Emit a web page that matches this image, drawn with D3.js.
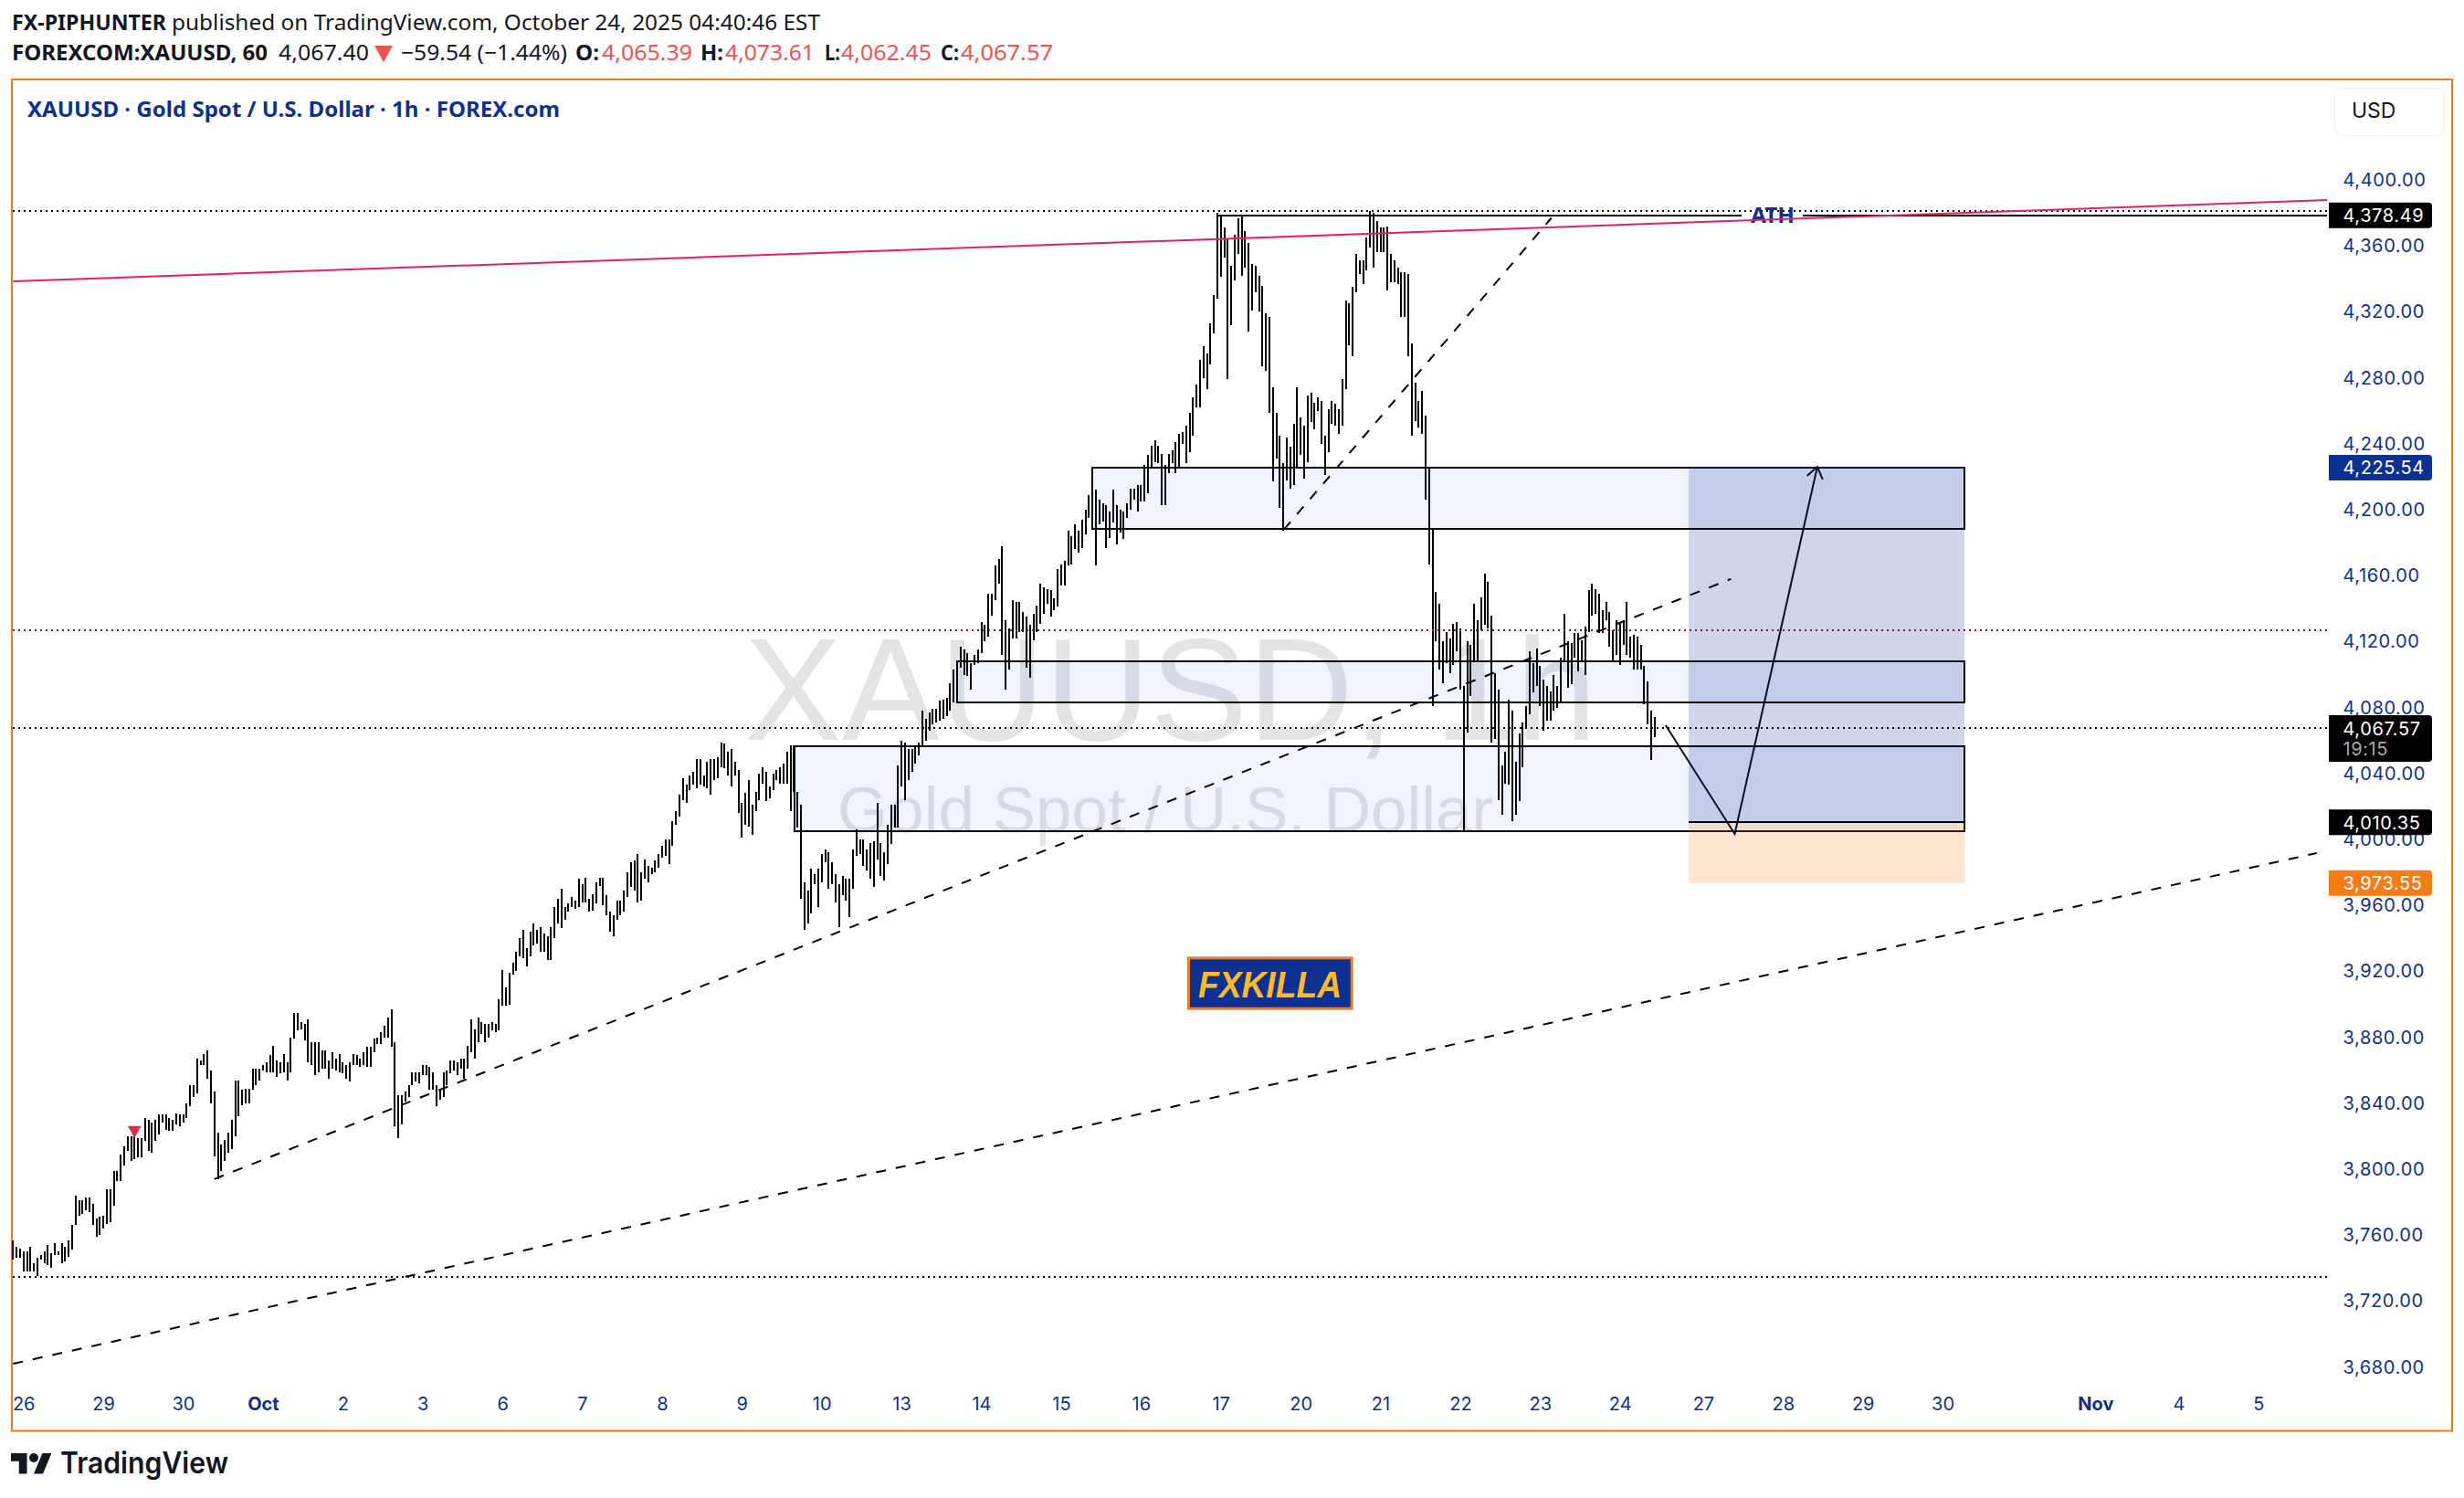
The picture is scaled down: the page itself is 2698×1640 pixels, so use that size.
<!DOCTYPE html>
<html>
<head>
<meta charset="utf-8">
<title>XAUUSD</title>
<script src="https://cdn.jsdelivr.net/npm/d3@7"></script>
<style>
  html, body { margin: 0; padding: 0; background: #fff; }
  svg { display: block; }
  text { font-family: "Noto Sans", sans-serif; }
</style>
</head>
<body>
<svg id="chart" width="2698" height="1640"></svg>
<script>
// hourly bars
const barHigh = [
  3757,3753,3752,3750,3750,3753,3743,3746,3748,3750,
  3754,3749,3755,3750,3755,3753,3757,3766,3784,3781,
  3781,3783,3783,3779,3770,3771,3772,3788,3788,3799,
  3799,3809,3814,3820,3820,3820,3819,3819,3831,3830,
  3828,3830,3833,3833,3833,3831,3830,3834,3833,3833,
  3840,3851,3851,3867,3866,3870,3872,3860,3847,3822,
  3815,3818,3822,3830,3854,3854,3848,3849,3849,3861,
  3861,3861,3863,3865,3869,3875,3866,3865,3870,3865,
  3880,3895,3895,3889,3888,3891,3877,3877,3877,3872,
  3872,3866,3871,3867,3870,3865,3863,3865,3870,3869,
  3867,3871,3874,3874,3879,3880,3883,3887,3892,3897,
  3877,3845,3845,3847,3851,3859,3859,3859,3863,3863,
  3862,3859,3851,3849,3859,3860,3866,3866,3865,3867,
  3867,3875,3891,3885,3892,3889,3888,3888,3889,3888,
  3903,3921,3910,3919,3925,3932,3940,3945,3934,3944,
  3949,3945,3947,3943,3941,3947,3959,3964,3970,3959,
  3961,3965,3963,3976,3973,3977,3964,3967,3974,3977,
  3977,3966,3956,3954,3963,3963,3969,3980,3986,3987,
  3991,3980,3988,3984,3983,3987,3991,3996,4000,4000,
  4011,4017,4027,4037,4033,4039,4041,4049,4049,4039,
  4047,4049,4049,4050,4059,4058,4053,4055,4047,4042,
  4022,4028,4036,4021,4029,4040,4044,4041,4032,4040,
  4042,4044,4046,4053,4057,4057,4029,4021,3974,3969,
  3982,3979,3982,3991,3994,3992,3986,3979,3973,3978,
  3976,3976,3994,4006,4000,4000,3994,3998,3999,4022,
  3998,3992,4009,4021,4021,4045,4060,4059,4055,4055,
  4056,4059,4078,4073,4077,4079,4079,4084,4085,4086,
  4095,4103,4108,4117,4115,4113,4107,4112,4115,4132,
  4130,4149,4149,4166,4170,4178,4133,4128,4145,4144,
  4144,4138,4135,4130,4137,4142,4155,4153,4152,4151,
  4146,4164,4167,4169,4187,4184,4191,4187,4194,4200,
  4209,4208,4212,4206,4204,4203,4199,4212,4203,4200,
  4199,4204,4213,4213,4215,4215,4227,4233,4239,4242,
  4239,4234,4227,4234,4236,4241,4246,4247,4251,4259,
  4268,4276,4291,4299,4295,4313,4330,4380,4378,4371,
  4364,4348,4367,4377,4378,4369,4362,4349,4348,4342,
  4336,4319,4317,4274,4259,4245,4228,4244,4238,4252,
  4274,4256,4251,4269,4271,4265,4268,4266,4245,4261,
  4266,4264,4261,4279,4327,4325,4335,4355,4351,4351,
  4365,4381,4380,4375,4371,4371,4372,4355,4351,4347,
  4344,4344,4343,4301,4277,4266,4272,4257,4226,4188,
  4150,4143,4120,4126,4122,4131,4132,4128,4093,4120,
  4118,4143,4133,4147,4161,4156,4136,4101,4091,4045,
  4053,4085,4078,4047,4064,4071,4081,4114,4107,4116,
  4105,4097,4093,4090,4100,4093,4110,4137,4120,4119,
  4125,4125,4121,4129,4151,4155,4152,4149,4139,4144,
  4138,4127,4133,4131,4133,4144,4123,4124,4123,4118,
  4105,4096,4078,4074
]
const barLow = [
  3745,3746,3746,3738,3738,3738,3738,3735,3745,3743,
  3742,3740,3748,3748,3743,3744,3747,3751,3766,3772,
  3773,3775,3774,3766,3759,3760,3764,3767,3768,3778,
  3793,3793,3802,3811,3805,3806,3807,3807,3817,3811,
  3810,3817,3821,3828,3824,3823,3823,3827,3826,3828,
  3831,3838,3844,3846,3863,3863,3855,3840,3808,3794,
  3799,3805,3810,3812,3820,3832,3839,3840,3840,3848,
  3851,3854,3860,3859,3859,3859,3856,3858,3859,3854,
  3859,3879,3884,3885,3878,3865,3863,3857,3859,3861,
  3861,3855,3861,3860,3859,3858,3855,3853,3863,3863,
  3862,3863,3862,3862,3871,3876,3876,3880,3880,3874,
  3826,3819,3827,3841,3844,3851,3853,3852,3857,3857,
  3848,3848,3838,3842,3844,3851,3858,3860,3857,3861,
  3855,3861,3871,3867,3877,3882,3877,3880,3884,3883,
  3884,3899,3899,3900,3918,3920,3929,3928,3923,3929,
  3936,3937,3932,3932,3927,3927,3940,3949,3946,3951,
  3956,3959,3958,3959,3962,3962,3956,3957,3961,3972,
  3960,3954,3944,3941,3951,3954,3956,3965,3971,3969,
  3962,3963,3976,3974,3979,3980,3983,3989,3990,3985,
  3996,4009,4014,4024,4022,4030,4033,4031,4033,4032,
  4031,4027,4036,4037,4044,4043,4039,4032,4039,4016,
  4001,4009,4008,4003,4017,4024,4034,4023,4025,4030,
  4036,4034,4034,4034,4017,4029,4007,3964,3945,3949,
  3955,3973,3959,3974,3986,3970,3973,3962,3947,3966,
  3963,3953,3970,3990,3991,3984,3981,3976,3971,3988,
  3978,3975,3985,3997,4007,4007,4032,4024,4036,4041,
  4046,4051,4056,4060,4066,4070,4071,4072,4073,4075,
  4078,4083,4099,4104,4100,4099,4091,4106,4107,4113,
  4120,4123,4136,4145,4155,4112,4091,4103,4122,4122,
  4126,4126,4104,4098,4121,4126,4131,4137,4143,4135,
  4139,4141,4154,4154,4166,4167,4176,4174,4177,4185,
  4195,4191,4166,4191,4193,4177,4183,4192,4179,4186,
  4182,4195,4200,4206,4199,4205,4205,4210,4226,4229,
  4228,4203,4203,4222,4228,4222,4226,4240,4228,4235,
  4245,4262,4262,4280,4273,4288,4307,4328,4341,4353,
  4279,4312,4339,4355,4342,4347,4308,4321,4332,4320,
  4287,4284,4259,4217,4231,4201,4187,4218,4213,4215,
  4225,4233,4219,4229,4253,4249,4260,4240,4221,4235,
  4252,4251,4246,4251,4273,4300,4293,4332,4343,4337,
  4345,4359,4347,4356,4356,4356,4333,4338,4338,4337,
  4317,4317,4293,4245,4254,4250,4246,4206,4167,4081,
  4120,4103,4095,4107,4101,4106,4114,4091,4005,4065,
  4087,4108,4108,4127,4130,4128,4059,4061,4024,4015,
  4034,4033,4011,4015,4023,4044,4067,4076,4089,4093,
  4081,4066,4072,4072,4078,4080,4083,4108,4092,4094,
  4110,4102,4108,4100,4126,4136,4137,4125,4125,4133,
  4117,4108,4112,4106,4118,4112,4110,4103,4103,4103,
  4082,4070,4048,4062
]

// axis ticks
const priceTicks = [4400,4360,4320,4280,4240,4200,4160,4120,4080,4040,4000,3960,3920,3880,3840,3800,3760,3720,3680]
const timeIndex = [3,26,49,72,95,118,141,164,187,210,233,256,279,302,325,348,371,394,417,440,463,487,510,533,556,600,624,647]
const timeLabels = ['26','29','30','Oct','2','3','6','7','8','9','10','13','14','15','16','17','20','21','22','23','24','27','28','29','30','Nov','4','5']

// drawings, [bar index, price]
const dashedLines = [
  [[0, 3682], [663.8, 3991.7]],
  [[58, 3794], [495, 4158]],
  [[366.2, 4188], [443.3, 4377]]
]
const pinkLine = [[0, 4338.5], [666.8, 4387.8]]
const dottedLevels = [4381.3, 4067.57, 3734.6]
const redLevels = [4126.9]
const athLine = [[347.1, 498], [515.7, 666.8]]
const zoneLeft = [310.9, 272, 225.2]
const zoneTop = [4225.54, 4108, 4056.5]
const zoneBottom = [4188.4, 4083.3, 4005]
const zoneRight = 562.3
const positionLeft = 482.8
const targetPrice = 4225.54
const entryPrice = 4010.35
const stopPrice = 3973.55
const arrowPath = [[476.2, 4069.3], [496.1, 4003.3], [519.9, 4226]]
const alertMark = [35, 3823.8]

const BLUE = '#0d3192'
const ORANGE = '#f57c16'
const endIndex = 666.8

const svg = d3.select('#chart')
const x = d3.scaleLinear().domain([0, 700]).range([14.3, 14.3 + 700 * 3.8])
const y = d3.scaleLinear().domain([3680, 4400]).range([1496.6, 197])

// 页眉
function head(str, px, py, opt = {}) {
  const t = svg.append('text')
    .attr('x', px).attr('y', py)
    .attr('font-size', opt.size || 23)
    .attr('font-weight', opt.bold ? 700 : 400)
    .attr('fill', opt.fill || '#131722')
    .text(str)
  if (opt.len) t.attr('textLength', opt.len).attr('lengthAdjust', 'spacingAndGlyphs')
  return t
}
head('FX-PIPHUNTER', 13, 33, {bold: true, len: 169})
head('published on TradingView.com, October 24, 2025 04:40:46 EST', 188, 33, {len: 710})
head('FOREXCOM:XAUUSD, 60', 13, 66, {bold: true, len: 280})
head('4,067.40', 305, 66, {len: 99})
svg.append('path').attr('d', 'M410 50H430L420 68Z').attr('fill', '#ef5350')
head('−59.54 (−1.44%)', 439, 66, {len: 182})
head('O:', 630, 66, {bold: true, len: 26})
head('4,065.39', 659, 66, {fill: '#ef5350', len: 99})
head('H:', 767, 66, {bold: true, len: 25})
head('4,073.61', 794, 66, {fill: '#ef5350', len: 98})
head('L:', 903, 66, {bold: true, len: 17})
head('4,062.45', 921, 66, {fill: '#ef5350', len: 99})
head('C:', 1030, 66, {bold: true, len: 20})
head('4,067.57', 1052, 66, {fill: '#ef5350', len: 101})

// 外框
svg.append('rect').attr('x', 13).attr('y', 87).attr('width', 2672).attr('height', 1479.5)
  .attr('fill', '#fff').attr('stroke', ORANGE).attr('stroke-width', 2)

head('XAUUSD · Gold Spot / U.S. Dollar · 1h · FOREX.com', 30, 128, {bold: true, fill: BLUE, len: 583})

// 水印
svg.append('text').attr('x', 815).attr('y', 810)
  .style('font-family', '"Liberation Sans"').attr('font-size', 160).attr('fill', '#e4e4e4')
  .text('XAUUSD, 1h')
svg.append('text').attr('x', 917).attr('y', 911)
  .style('font-family', '"Liberation Sans"').attr('font-size', 71).attr('fill', '#e4e4e4')
  .text('Gold Spot / U.S. Dollar')

// 价格柱
svg.append('g').attr('shape-rendering', 'crispEdges')
  .selectAll('line').data(barHigh).join('line')
  .attr('x1', (d, i) => Math.round(x(i))).attr('x2', (d, i) => Math.round(x(i)))
  .attr('y1', d => y(d)).attr('y2', (d, i) => y(barLow[i]))
  .attr('stroke', '#000').attr('stroke-width', 2)

// 区域
const zones = svg.append('g').attr('shape-rendering', 'crispEdges')
zoneLeft.forEach((left, i) => {
  zones.append('rect')
    .attr('x', Math.round(x(left))).attr('y', Math.round(y(zoneTop[i])))
    .attr('width', Math.round(x(zoneRight) - x(left))).attr('height', Math.round(y(zoneBottom[i]) - y(zoneTop[i])))
    .attr('fill', 'rgba(41,98,255,0.07)').attr('stroke', '#000').attr('stroke-width', 2)
})

// 多头仓位
svg.append('rect')
  .attr('x', x(positionLeft)).attr('y', y(targetPrice))
  .attr('width', x(zoneRight) - x(positionLeft)).attr('height', y(entryPrice) - y(targetPrice))
  .attr('fill', 'rgba(13,49,146,0.2)')
svg.append('rect')
  .attr('x', x(positionLeft)).attr('y', y(entryPrice))
  .attr('width', x(zoneRight) - x(positionLeft)).attr('height', y(stopPrice) - y(entryPrice))
  .attr('fill', 'rgba(245,124,22,0.2)')
svg.append('line')
  .attr('x1', x(positionLeft)).attr('x2', x(zoneRight))
  .attr('y1', Math.round(y(entryPrice))).attr('y2', Math.round(y(entryPrice)))
  .attr('stroke', '#000').attr('stroke-width', 2).attr('shape-rendering', 'crispEdges')

// 水平线
function level(price, color) {
  svg.append('line')
    .attr('x1', x(0)).attr('x2', x(endIndex))
    .attr('y1', Math.round(y(price))).attr('y2', Math.round(y(price)))
    .attr('stroke', color).attr('stroke-width', 2).attr('stroke-dasharray', '2 4')
    .attr('shape-rendering', 'crispEdges')
}
dottedLevels.forEach(p => level(p, '#000'))
redLevels.forEach(p => level(p, '#880e4f'))

athLine.forEach(seg => {
  svg.append('line')
    .attr('x1', x(seg[0])).attr('x2', x(seg[1]))
    .attr('y1', Math.round(y(4378.49))).attr('y2', Math.round(y(4378.49)))
    .attr('stroke', '#000').attr('stroke-width', 2).attr('shape-rendering', 'crispEdges')
})
svg.append('text').attr('x', 1917).attr('y', 244).attr('font-size', 23).attr('font-weight', 700)
  .attr('fill', BLUE).attr('textLength', 48).attr('lengthAdjust', 'spacingAndGlyphs').text('ATH')

// 趋势线
const line = d3.line().x(d => x(d[0])).y(d => y(d[1]))
dashedLines.forEach(pts => {
  svg.append('path').attr('d', line(pts)).attr('fill', 'none')
    .attr('stroke', '#000').attr('stroke-width', 2).attr('stroke-dasharray', '11 11')
})
svg.append('path').attr('d', line(pinkLine)).attr('fill', 'none')
  .attr('stroke', '#e91e63').attr('stroke-width', 2)

// 箭头
svg.append('path').attr('d', line(arrowPath)).attr('fill', 'none')
  .attr('stroke', '#0b1020').attr('stroke-width', 2)
const tip = arrowPath[2], prev = arrowPath[1]
const ang = Math.atan2(y(tip[1]) - y(prev[1]), x(tip[0]) - x(prev[0]))
const head1 = ang + Math.PI * 0.8, head2 = ang - Math.PI * 0.8
svg.append('path')
  .attr('d', `M${x(tip[0]) + 15 * Math.cos(head1)} ${y(tip[1]) + 15 * Math.sin(head1)}L${x(tip[0])} ${y(tip[1])}L${x(tip[0]) + 15 * Math.cos(head2)} ${y(tip[1]) + 15 * Math.sin(head2)}`)
  .attr('fill', 'none').attr('stroke', '#0b1020').attr('stroke-width', 2)

// 提醒标记
svg.append('path')
  .attr('d', d3.symbol(d3.symbolTriangle).size(97))
  .attr('transform', `translate(${x(alertMark[0])},${y(alertMark[1])}) rotate(180)`)
  .attr('fill', '#d9304a')

// FXKILLA
svg.append('rect').attr('x', 1301.5).attr('y', 1048.8).attr('width', 178.7).attr('height', 55.4)
  .attr('fill', BLUE).attr('stroke', ORANGE).attr('stroke-width', 3)
svg.append('text').attr('x', 1312).attr('y', 1092)
  .style('font-family', '"Liberation Sans"').attr('font-size', 40)
  .attr('font-weight', 700).attr('font-style', 'italic').attr('fill', '#fdb927')
  .attr('textLength', 157).attr('lengthAdjust', 'spacingAndGlyphs').text('FXKILLA')

// 价格轴
const yAxis = d3.axisRight(y).tickValues(priceTicks).tickFormat(d3.format(',.2f')).tickSize(0).tickPadding(0)
const yg = svg.append('g').attr('transform', 'translate(2565.5,0)').call(yAxis)
yg.select('.domain').remove()
yg.selectAll('text').style('font-family', 'Inter').attr('font-size', 20).attr('fill', BLUE).attr('letter-spacing', 0.6)

// 时间轴
const xAxis = d3.axisBottom(x).tickValues(timeIndex).tickFormat((d, i) => timeLabels[i]).tickSize(0).tickPadding(0)
const xg = svg.append('g').attr('transform', 'translate(0,1530)').call(xAxis)
xg.select('.domain').remove()
xg.selectAll('text').style('font-family', 'Inter').attr('font-size', 20).attr('fill', BLUE)
  .attr('font-weight', (d, i) => /[a-z]/.test(timeLabels[i]) ? 700 : 400)

// 价格标签
function tag(price, color, extra) {
  const cy = y(price)
  const top = cy - 14
  const h = extra ? 51 : 28
  svg.append('path')
    .attr('d', `M2550 ${top}H2659a4 4 0 0 1 4 4V${top + h - 4}a4 4 0 0 1 -4 4H2550Z`)
    .attr('fill', color)
  svg.append('text').attr('x', 2565.5).attr('y', cy + 7.5)
    .style('font-family', 'Inter').attr('font-size', 20).attr('letter-spacing', 0.6)
    .attr('fill', '#fff').text(d3.format(',.2f')(price))
  if (extra) {
    svg.append('text').attr('x', 2565.5).attr('y', cy + 30)
      .style('font-family', 'Inter').attr('font-size', 20).attr('letter-spacing', 0.6)
      .attr('fill', '#aaa').text(extra)
  }
}
tag(4378.49, '#000')
tag(targetPrice, BLUE)
tag(4067.57, '#000', '19:15')
tag(entryPrice, '#000')
tag(stopPrice, ORANGE)

// 币种按钮
svg.append('rect').attr('x', 2556.5).attr('y', 96.5).attr('width', 119).attr('height', 52).attr('rx', 8)
  .attr('fill', '#fff').attr('stroke', '#f0f0f0')
svg.append('text').attr('x', 2575).attr('y', 129)
  .style('font-family', 'Inter').attr('font-size', 23).attr('fill', '#131722').text('USD')

// TradingView 标志
svg.append('g').attr('transform', 'translate(12,1586) scale(1.25)')
  .append('path').attr('d', 'M14 22H7V11H0V4h14v18zM28 22h-8l7.5-18h8L28 22z').attr('fill', '#131722')
svg.append('circle').attr('cx', 12 + 20 * 1.25).attr('cy', 1586 + 8 * 1.25).attr('r', 5).attr('fill', '#131722')
svg.append('text').attr('x', 66).attr('y', 1613)
  .style('font-family', 'Inter').attr('font-size', 33).attr('font-weight', 600).attr('fill', '#131722')
  .attr('textLength', 184).attr('lengthAdjust', 'spacingAndGlyphs').text('TradingView')
</script>
</body>
</html>
